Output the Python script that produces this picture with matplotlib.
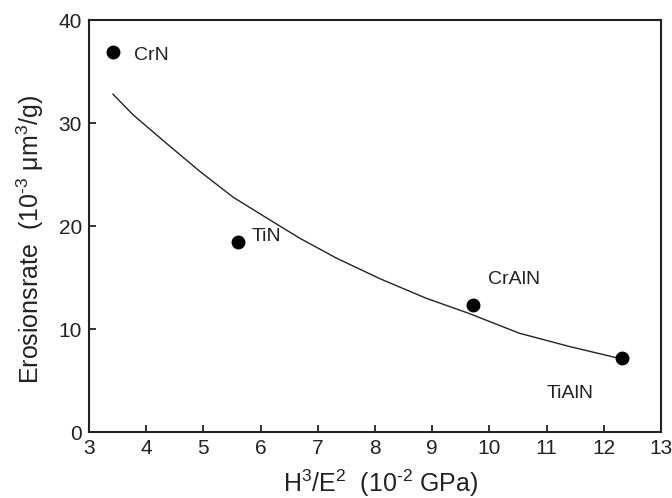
import numpy as np
import matplotlib
matplotlib.use("Agg")
import matplotlib.pyplot as plt

plt.rcParams['font.family'] = ['Liberation Sans', 'DejaVu Sans']
plt.rcParams['mathtext.fontset'] = 'custom'
plt.rcParams['mathtext.rm'] = 'Liberation Sans'
plt.rcParams['mathtext.it'] = 'Liberation Sans'
plt.rcParams['mathtext.default'] = 'regular'

# coatings: H^3/E^2 vs erosion rate
coatings = ['CrN', 'TiN', 'CrAlN', 'TiAlN']
h3e2 = [3.42, 5.60, 9.71, 12.31]
erosion = [36.9, 18.4, 12.3, 7.15]
label_x = [3.79, 5.84, 9.97, 11.0]
label_y = [36.6, 19.0, 14.8, 3.75]

# trend line traced through the data
fit_x = [3.42, 3.77, 4.36, 4.94, 5.52, 6.16, 6.69, 7.32, 8.08, 8.89, 9.65, 10.52, 11.40, 12.27]
fit_y = [32.8, 30.8, 28.0, 25.3, 22.8, 20.6, 18.8, 16.9, 14.9, 13.0, 11.5, 9.6, 8.3, 7.15]

fig = plt.figure(figsize=(6.72, 4.98), dpi=100)
ax = fig.add_axes([0.1324, 0.1325, 0.8512, 0.8273])

ax.plot(fit_x, fit_y, color='#222222', lw=1.0)
ax.plot(h3e2, erosion, 'o', color='black', ms=9)
for name, lx, ly in zip(coatings, label_x, label_y):
    ax.text(lx, ly, name, fontsize=14, va='center', ha='left', color='#222222')

ax.set_xlim(3, 13)
ax.set_ylim(0, 40)
ax.set_xticks(np.arange(3, 14, 1))
ax.set_yticks([0, 10, 20, 30, 40])
ax.tick_params(direction='in', length=5, width=1.3, labelsize=15, colors='#222222', pad=5)
for s in ax.spines.values():
    s.set_linewidth(1.5)
    s.set_color('#222222')

ax.set_xlabel(r'H$^3$/E$^2$  (10$^{\text{-}2}$ GPa)', fontsize=18, color='#222222')
ax.set_ylabel(r'Erosionsrate  (10$^{\text{-}3}$ μm$^3$/g)', fontsize=18, color='#222222')
ax.xaxis.set_label_coords(0.51, -0.086)
ax.yaxis.set_label_coords(-0.075, 0.468)

fig.savefig('out.png', dpi=100)
